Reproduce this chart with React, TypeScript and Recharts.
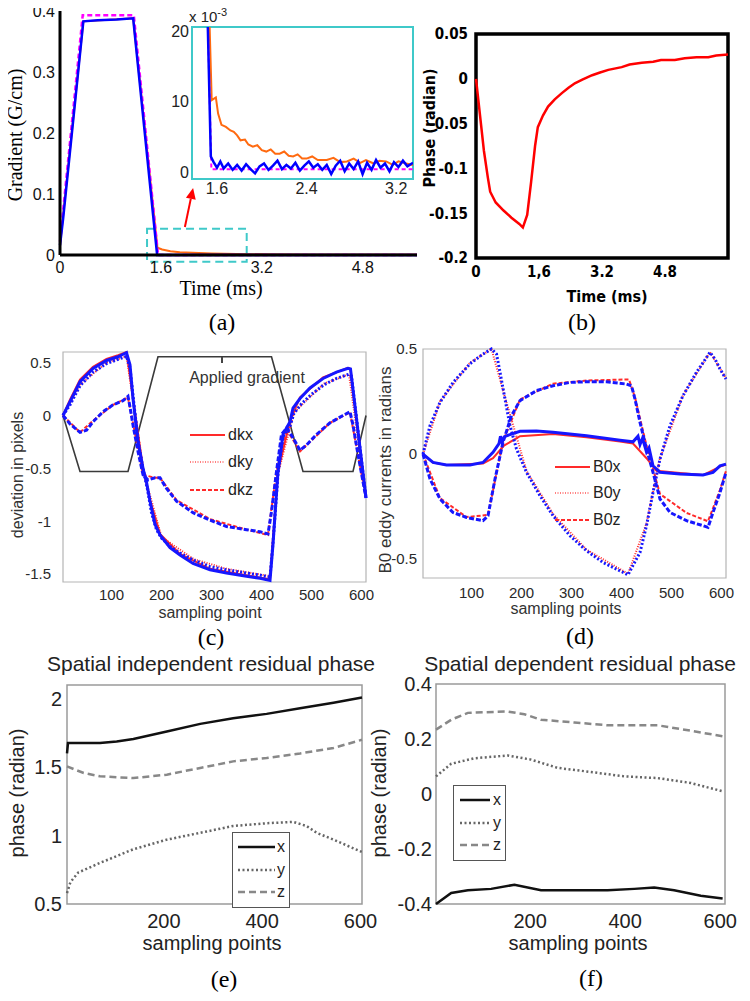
import React from 'react'
import { LineChart, Line, XAxis, YAxis, ReferenceArea, ReferenceLine } from 'recharts'

type Pt = [number, number]

// (a) gradient waveform (G/cm vs ms)
const A_X_TICKS = [0, 1.6, 3.2, 4.8]
const A_Y_TICKS = [0, 0.1, 0.2, 0.3, 0.4]
const A_BLUE: Pt[] = [[0, 0.016], [0.05, 0.06], [0.37, 0.383], [0.6, 0.385], [0.9, 0.386], [1.16, 0.388], [1.54, 0], [5.66, 0]]
const A_MAGENTA: Pt[] = [[0, 0.022], [0.36, 0.393], [1.17, 0.393], [1.555, 0], [5.66, 0]]
const A_ORANGE: Pt[] = [
  [0, 0.016], [0.37, 0.383], [1.16, 0.388], [1.545, 0.012], [1.62, 0.009], [1.75, 0.006], [1.9, 0.0045],
  [2.1, 0.0035], [2.4, 0.0025], [2.8, 0.0018], [3.3, 0.0012], [4.0, 0.001], [5.66, 0.0008],
]

// (a) inset, units of 1e-3
const IN_X_TICKS = [1.6, 2.4, 3.2]
const IN_Y_TICKS = [0, 10, 20]
const IN_ORANGE: Pt[] = [
  [1.5, 40], [1.553, 10.2], [1.59, 10.6], [1.61, 8.3], [1.64, 6.7], [1.68, 6.4], [1.72, 5.9], [1.75, 5.7],
  [1.78, 5.2], [1.81, 4.5], [1.85, 4.6], [1.88, 3.9], [1.92, 3.6], [1.96, 3.8], [2.0, 3.1], [2.04, 2.9],
  [2.08, 3.2], [2.12, 2.6], [2.16, 2.6], [2.2, 2.9], [2.24, 2.3], [2.28, 2.2], [2.32, 2.5], [2.36, 1.9],
  [2.4, 1.9], [2.45, 2.2], [2.5, 1.7], [2.58, 1.7], [2.64, 2.0], [2.7, 1.4], [2.76, 1.5], [2.82, 1.9],
  [2.88, 1.3], [2.93, 1.7], [3.0, 1.2], [3.05, 1.6], [3.11, 1.5], [3.17, 1.0], [3.22, 1.5], [3.29, 1.2], [3.35, 1.0],
]
const IN_MAGENTA: Pt[] = [[1.49, 40], [1.55, 0.4], [3.35, 0.4]]
const IN_BLUE: Pt[] = [
  [1.49, 40], [1.545, 2.2], [1.57, 1.4], [1.6, 0.6], [1.63, 1.5], [1.66, 0.5], [1.7, 1.2], [1.74, 0.3],
  [1.78, 1.0], [1.82, 0.2], [1.86, 1.1], [1.9, 0.4], [1.94, -0.2], [1.98, 0.8], [2.02, 1.2], [2.06, 0.3],
  [2.1, 0.9], [2.14, 1.6], [2.18, 0.4], [2.22, 1.0], [2.26, 0.5], [2.3, 1.3], [2.34, 0.2], [2.38, 0.9],
  [2.42, 1.5], [2.46, 0.6], [2.5, 1.1], [2.54, 0.3], [2.58, 1.0], [2.62, -0.3], [2.66, 0.9], [2.7, 1.6],
  [2.74, 0.1], [2.78, 1.2], [2.82, 0.4], [2.86, 1.5], [2.9, -0.3], [2.94, 1.3], [2.98, 0.3], [3.02, 1.7],
  [3.06, 0.6], [3.1, 1.2], [3.14, 0.1], [3.18, 1.4], [3.22, 0.7], [3.26, 1.6], [3.3, 0.8], [3.35, 1.3],
]

// (b) phase vs time
const B_X_TICKS = [0, 1.6, 3.2, 4.8]
const B_X_LABELS = ['0', '1,6', '3.2', '4.8']
const B_Y_TICKS = [-0.2, -0.15, -0.1, -0.05, 0, 0.05]
const B_PHASE: Pt[] = [
  [0, 0], [0.1, -0.04], [0.2, -0.08], [0.3, -0.11], [0.36, -0.126], [0.5, -0.138], [0.7, -0.147],
  [0.9, -0.155], [1.1, -0.162], [1.19, -0.166], [1.3, -0.152], [1.4, -0.115], [1.5, -0.075], [1.57, -0.054],
  [1.7, -0.041], [1.83, -0.031], [2.0, -0.023], [2.18, -0.016], [2.35, -0.01], [2.51, -0.005], [2.7, -0.001],
  [2.95, 0.004], [3.15, 0.007], [3.36, 0.01], [3.7, 0.013], [3.9, 0.016], [4.21, 0.018], [4.5, 0.019],
  [4.7, 0.021], [5.05, 0.021], [5.3, 0.023], [5.6, 0.024], [5.9, 0.024], [6.1, 0.026], [6.4, 0.027],
]

// (c) k-space deviation vs sampling point
const CD_X_TICKS = [100, 200, 300, 400, 500, 600]
const C_Y_TICKS = [-1.5, -1, -0.5, 0, 0.5]
const C_LEGEND = ['dkx', 'dky', 'dkz']
const C_GRAD: Pt[] = [[3, 0], [37, -0.53], [133, -0.53], [193, 0.555], [420, 0.555], [483, -0.53], [583, -0.53], [609, 0]]
const C_X_BLUE: Pt[] = [
  [3, 0], [17, 0.13], [37, 0.32], [63, 0.445], [90, 0.52], [113, 0.555], [130, 0.595], [137, 0.48], [143, 0.16],
  [153, -0.25], [163, -0.5], [170, -0.63], [177, -0.81], [187, -1.03], [197, -1.13], [217, -1.25], [237, -1.32],
  [263, -1.4], [297, -1.46], [330, -1.49], [370, -1.52], [397, -1.54], [417, -1.56], [423, -1.22], [433, -0.53],
  [443, -0.18], [457, -0.06], [463, 0.07], [477, 0.16], [497, 0.26], [523, 0.35], [550, 0.41], [573, 0.445],
  [578, 0.44], [609, -0.78],
]
const C_Y_BLUE: Pt[] = [
  [3, 0], [17, 0.1], [37, 0.28], [63, 0.41], [90, 0.49], [113, 0.53], [130, 0.56], [137, 0.45], [145, 0.1],
  [155, -0.3], [165, -0.55], [172, -0.7], [180, -0.92], [190, -1.08], [200, -1.16], [220, -1.25], [240, -1.31],
  [265, -1.37], [297, -1.43], [330, -1.46], [370, -1.49], [397, -1.51], [417, -1.53], [423, -1.2], [433, -0.55],
  [443, -0.2], [457, -0.1], [465, 0.02], [480, 0.11], [500, 0.2], [525, 0.29], [550, 0.35], [575, 0.39],
  [580, 0.37], [609, -0.78],
]
const C_Z_BLUE: Pt[] = [
  [3, 0], [17, -0.08], [37, -0.16], [50, -0.14], [63, -0.06], [83, 0.035], [103, 0.1], [123, 0.14], [133, 0.18],
  [137, 0.08], [143, -0.09], [153, -0.34], [163, -0.56], [173, -0.61], [187, -0.59], [197, -0.59], [210, -0.69],
  [230, -0.81], [263, -0.92], [297, -0.99], [330, -1.05], [370, -1.08], [397, -1.1], [413, -1.12], [420, -0.91],
  [430, -0.53], [440, -0.18], [450, -0.12], [463, -0.21], [477, -0.33], [490, -0.28], [510, -0.18], [537, -0.07],
  [563, 0], [577, 0.035], [583, -0.09], [593, -0.37], [609, -0.78],
]
const C_X_RED: Pt[] = [
  [3, 0], [17, 0.15], [37, 0.34], [63, 0.46], [90, 0.535], [113, 0.57], [130, 0.6], [163, -0.5], [177, -0.8],
  [197, -1.12], [237, -1.31], [297, -1.45], [370, -1.51], [417, -1.55], [433, -0.53], [457, -0.05], [477, 0.17],
  [523, 0.36], [573, 0.45], [578, 0.44], [609, -0.78],
]
const C_Y_RED: Pt[] = [
  [3, 0], [37, 0.29], [90, 0.5], [130, 0.56], [165, -0.55], [200, -1.15], [265, -1.36], [330, -1.45], [417, -1.52],
  [433, -0.55], [465, 0.03], [525, 0.3], [575, 0.39], [609, -0.78],
]
const C_Z_RED: Pt[] = [
  [3, 0], [37, -0.16], [63, -0.05], [103, 0.1], [133, 0.17], [163, -0.56], [187, -0.59], [197, -0.59], [230, -0.8],
  [297, -0.98], [370, -1.08], [413, -1.13], [430, -0.53], [450, -0.13], [477, -0.34], [537, -0.07], [577, 0.03],
  [609, -0.78],
]

// (d) B0 eddy currents vs sampling point
const D_Y_TICKS = [-0.5, 0, 0.5]
const D_LEGEND = ['B0x', 'B0y', 'B0z']
const D_X_BLUE: Pt[] = [
  [3, 0], [23, -0.04], [50, -0.052], [97, -0.052], [123, -0.04], [143, 0.008], [155, 0.05], [158, 0.085],
  [161, 0.055], [165, 0.08], [170, 0.087], [197, 0.108], [230, 0.11], [263, 0.104], [330, 0.087], [397, 0.066],
  [423, 0.058], [433, 0.085], [437, 0.045], [442, 0.075], [450, 0.01], [455, 0.03], [463, -0.056], [477, -0.087],
  [517, -0.095], [563, -0.1], [583, -0.087], [597, -0.056], [609, -0.048],
]
const D_Y_BLUE: Pt[] = [
  [3, 0], [17, 0.135], [37, 0.246], [63, 0.34], [97, 0.43], [123, 0.476], [140, 0.5], [150, 0.476], [157, 0.39],
  [167, 0.262], [177, 0.135], [190, 0.024], [210, -0.087], [237, -0.198], [263, -0.293], [297, -0.389],
  [330, -0.46], [363, -0.516], [397, -0.556], [413, -0.575], [423, -0.53], [437, -0.468], [450, -0.341],
  [463, -0.183], [477, -0.024], [497, 0.135], [523, 0.278], [550, 0.389], [577, 0.484], [587, 0.452],
  [597, 0.405], [609, 0.357],
]
const D_Z_BLUE: Pt[] = [
  [3, 0], [17, -0.119], [37, -0.214], [63, -0.278], [90, -0.302], [123, -0.317], [133, -0.294], [147, -0.119],
  [163, 0.056], [180, 0.183], [197, 0.254], [230, 0.302], [263, 0.325], [297, 0.341], [330, 0.344], [370, 0.344],
  [410, 0.333], [420, 0.325], [427, 0.262], [437, 0.151], [450, 0.024], [463, -0.087], [477, -0.214],
  [497, -0.278], [530, -0.317], [563, -0.341], [573, -0.349], [583, -0.278], [597, -0.183], [609, -0.087],
]
const D_X_RED: Pt[] = [
  [3, 0], [23, -0.04], [50, -0.052], [123, -0.045], [143, -0.02], [165, 0.04], [197, 0.085], [263, 0.095],
  [330, 0.08], [397, 0.06], [423, 0.05], [450, -0.02], [470, -0.08], [517, -0.09], [563, -0.1], [597, -0.06],
  [609, -0.05],
]
const D_Y_RED: Pt[] = [
  [3, 0], [37, 0.25], [97, 0.435], [140, 0.5], [167, 0.27], [210, -0.08], [263, -0.285], [330, -0.455],
  [413, -0.57], [450, -0.33], [477, -0.02], [523, 0.28], [577, 0.485], [609, 0.36],
]
const D_Z_RED: Pt[] = [
  [3, 0], [37, -0.21], [90, -0.3], [133, -0.29], [163, 0.06], [197, 0.26], [263, 0.335], [330, 0.35],
  [415, 0.355], [427, 0.27], [450, 0.04], [477, -0.19], [530, -0.28], [573, -0.32], [597, -0.17], [609, -0.08],
]

// (e) spatial independent residual phase
const EF_X_TICKS = [200, 400, 600]
const E_Y_TICKS = [0.5, 1, 1.5, 2]
const EF_LEGEND = ['x', 'y', 'z']
const E_X: Pt[] = [
  [3, 1.6], [5, 1.676], [22, 1.676], [70, 1.676], [104, 1.688], [138, 1.705], [206, 1.76], [274, 1.816],
  [341, 1.857], [409, 1.889], [477, 1.93], [545, 1.97], [603, 2.008],
]
const E_Y: Pt[] = [
  [3, 0.58], [10, 0.66], [26, 0.73], [70, 0.8], [138, 0.9], [206, 0.97], [274, 1.02], [341, 1.07], [409, 1.09],
  [463, 1.1], [490, 1.07], [511, 1.02], [545, 0.97], [603, 0.88],
]
const E_Z: Pt[] = [
  [3, 1.505], [37, 1.457], [70, 1.433], [138, 1.42], [206, 1.445], [274, 1.494], [341, 1.542], [409, 1.567],
  [477, 1.6], [545, 1.64], [603, 1.7],
]

// (f) spatial dependent residual phase
const F_Y_TICKS = [-0.4, -0.2, 0, 0.2, 0.4]
const F_X: Pt[] = [
  [2, -0.4], [34, -0.36], [69, -0.35], [118, -0.345], [167, -0.33], [223, -0.35], [293, -0.35], [363, -0.35],
  [419, -0.345], [461, -0.34], [503, -0.35], [559, -0.37], [605, -0.38],
]
const F_Y: Pt[] = [
  [2, 0.064], [34, 0.11], [83, 0.13], [153, 0.14], [202, 0.125], [258, 0.095], [328, 0.08], [398, 0.064],
  [468, 0.058], [538, 0.04], [605, 0.01],
]
const F_Z: Pt[] = [
  [2, 0.234], [34, 0.27], [69, 0.295], [153, 0.3], [188, 0.29], [223, 0.27], [293, 0.26], [363, 0.25],
  [433, 0.25], [468, 0.25], [538, 0.23], [605, 0.21],
]

const SERIF = '"Liberation Serif", "Times New Roman", serif'
const SANS = '"Liberation Sans", Arial, Helvetica, sans-serif'
const NARROW = '"Liberation Sans Narrow", "Arial Narrow", "DejaVu Sans Condensed", sans-serif'
const BLUE = '#1616ff'
const RED = '#ff2a2a'
const CYAN = '#3fc9c9'

const pts = (a: Pt[]) => a.map(([x, y]) => ({ x, y }))

// plot boxes [left, top, right, bottom] in page pixels
const T = 12
const R = 30
const place = (box: number[], l: number, b: number) => ({
  style: { position: 'absolute' as const, left: box[0] - l, top: box[1] - T },
  width: box[2] - box[0] + l + R,
  height: box[3] - box[1] + T + b,
  margin: { top: T, right: R, bottom: 0, left: 0 },
})

function Txt({ x, y, rot = 0, size, font, weight = 400, color = '#000', children }: any) {
  return (
    <div
      style={{
        position: 'absolute', left: x, top: y, whiteSpace: 'nowrap', lineHeight: 1.2,
        transform: `translate(-50%, -50%) rotate(${rot}deg)`,
        fontSize: size, fontFamily: font, fontWeight: weight, color,
      }}
    >
      {children}
    </div>
  )
}

type Key = { label: string; stroke: string; width: number; dash?: string }

function LineKey({ items, left, top, step, len, size, box, padX = 0, gap = 3 }: any) {
  return (
    <div
      style={{
        position: 'absolute', left, top, background: box ? '#fff' : 'transparent',
        border: box ? '1px solid #555' : 'none', padding: box ? `3px 4px 3px ${padX}px` : 0,
      }}
    >
      {items.map((it: Key) => (
        <div key={it.label} style={{ display: 'flex', alignItems: 'center', height: step }}>
          <svg width={len} height={6}>
            <line x1={0} y1={3} x2={len} y2={3} stroke={it.stroke} strokeWidth={it.width} strokeDasharray={it.dash} />
          </svg>
          <span style={{ marginLeft: gap, fontFamily: SANS, fontSize: size, color: '#222', lineHeight: 1 }}>{it.label}</span>
        </div>
      ))}
    </div>
  )
}

const Arrow = (p: any) => {
  const { x1, y1, x2, y2 } = p
  const a = Math.atan2(y2 - y1, x2 - x1)
  const L = 11
  const W = 5
  const bx = x2 - L * Math.cos(a)
  const by = y2 - L * Math.sin(a)
  const head = `${x2},${y2} ${bx + W * Math.sin(a)},${by - W * Math.cos(a)} ${bx - W * Math.sin(a)},${by + W * Math.cos(a)}`
  return (
    <g>
      <line x1={x1} y1={y1} x2={bx} y2={by} stroke="#f00" strokeWidth={2} />
      <polygon points={head} fill="#f00" />
    </g>
  )
}

const BOX_A = [60, 11, 417, 255]
const BOX_IN = [192, 27, 413, 179]
const BOX_B = [476, 34, 728, 258]
const BOX_C = [63, 352, 366, 582]
const BOX_D = [423, 349, 726, 578]
const BOX_E = [67, 685, 362, 904]
const BOX_F = [436, 684, 725, 904]

export default function App() {
  const pa = place(BOX_A, 60, 40)
  const pi = place(BOX_IN, 40, 30)
  const pb = place(BOX_B, 60, 40)
  const pc = place(BOX_C, 60, 40)
  const pd = place(BOX_D, 60, 40)
  const pe = place(BOX_E, 60, 40)
  const pf = place(BOX_F, 60, 40)

  const thin = { fontFamily: SANS, fontSize: 15, fill: '#2a2a2a' }
  const big = { fontFamily: SANS, fontSize: 20, fill: '#222' }
  const cdStyles = [
    { w: 3, dash: undefined, rdash: undefined },
    { w: 3, dash: '2 2', rdash: '1 1.5' },
    { w: 3, dash: '5 2', rdash: '4 2' },
  ]
  const cKeys: Key[] = C_LEGEND.map((label, i) => ({ label, stroke: i === 1 ? '#ff8080' : RED, width: 2, dash: cdStyles[i].rdash }))
  const dKeys: Key[] = D_LEGEND.map((label, i) => ({ label, stroke: i === 1 ? '#ff8080' : RED, width: 2, dash: cdStyles[i].rdash }))
  const efStyles = [
    { stroke: '#111', dash: undefined },
    { stroke: '#666', dash: '2 2.5' },
    { stroke: '#888', dash: '7 4' },
  ]
  const efKeys: Key[] = EF_LEGEND.map((label, i) => ({ label, stroke: efStyles[i].stroke, width: 2.5, dash: efStyles[i].dash }))

  return (
    <div style={{ position: 'relative', width: 750, height: 1001, margin: -8, background: '#fff', overflow: 'hidden' }}>
      {/* (a) */}
      <div style={pa.style}>
        <LineChart width={pa.width} height={pa.height} margin={pa.margin}>
          <XAxis type="number" dataKey="x" domain={[0, 5.66]} ticks={A_X_TICKS} interval={0} height={40}
            tickLine={false} tickSize={4} tickMargin={3} axisLine={{ stroke: '#000', strokeWidth: 3 }}
            tick={{ fontFamily: SANS, fontSize: 16, fill: '#111' }} />
          <YAxis type="number" domain={[0, 0.4]} ticks={A_Y_TICKS} interval={0} width={60}
            tickLine={false} tickSize={3} tickMargin={2} axisLine={{ stroke: '#000', strokeWidth: 3 }}
            tick={{ fontFamily: SANS, fontSize: 16, fill: '#111' }} />
          <Line data={pts(A_ORANGE)} dataKey="y" stroke="#ff6a10" strokeWidth={2} dot={false} activeDot={false} isAnimationActive={false} />
          <Line data={pts(A_MAGENTA)} dataKey="y" stroke="#ff00ff" strokeWidth={2.5} strokeDasharray="5 3" dot={false} activeDot={false} isAnimationActive={false} />
          <Line data={pts(A_BLUE)} dataKey="y" stroke="#0000ff" strokeWidth={2.5} dot={false} activeDot={false} isAnimationActive={false} />
          <ReferenceArea x1={1.38} x2={2.96} y1={-0.011} y2={0.043} fill="none" stroke={CYAN} strokeWidth={2}
            strokeDasharray="8 5" ifOverflow="visible" />
          <ReferenceLine segment={[{ x: 1.98, y: 0.046 }, { x: 2.11, y: 0.11 }]} ifOverflow="visible" shape={Arrow} />
        </LineChart>
      </div>
      {/* (a) inset */}
      <div style={pi.style}>
        <LineChart width={pi.width} height={pi.height} margin={pi.margin}>
          <XAxis type="number" dataKey="x" domain={[1.377, 3.35]} ticks={IN_X_TICKS} interval={0} height={30}
            tickLine={false} tickSize={2} tickMargin={2} axisLine={false} allowDataOverflow
            tick={{ fontFamily: SANS, fontSize: 16, fill: '#222' }} />
          <YAxis type="number" domain={[-1, 20.6]} ticks={IN_Y_TICKS} interval={0} width={40}
            tickLine={false} tickSize={0} tickMargin={3} axisLine={false} allowDataOverflow
            tick={{ fontFamily: SANS, fontSize: 16, fill: '#222' }} />
          <Line data={pts(IN_ORANGE)} dataKey="y" stroke="#ff6a10" strokeWidth={2} dot={false} activeDot={false} isAnimationActive={false} />
          <Line data={pts(IN_MAGENTA)} dataKey="y" stroke="#ff00ff" strokeWidth={2} strokeDasharray="4 3" dot={false} activeDot={false} isAnimationActive={false} />
          <Line data={pts(IN_BLUE)} dataKey="y" stroke="#0000ff" strokeWidth={2.5} dot={false} activeDot={false} isAnimationActive={false} />
          <ReferenceArea x1={1.377} x2={3.35} y1={-1} y2={20.6} fill="none" stroke={CYAN} strokeWidth={2} ifOverflow="visible" />
        </LineChart>
      </div>

      {/* (b) */}
      <div style={pb.style}>
        <LineChart width={pb.width} height={pb.height} margin={pb.margin}>
          <XAxis type="number" dataKey="x" domain={[0, 6.4]} ticks={B_X_TICKS} interval={0} height={40}
            tickLine={false} tickSize={5} tickMargin={3} axisLine={false}
            tickFormatter={(v: number) => B_X_LABELS[B_X_TICKS.indexOf(v)] ?? String(v)}
            tick={{ fontFamily: NARROW, fontWeight: 700, fontSize: 15, fill: '#000' }} />
          <YAxis type="number" domain={[-0.2, 0.05]} ticks={B_Y_TICKS} interval={0} width={60}
            tickLine={false} tickSize={5} tickMargin={3} axisLine={false}
            tick={{ fontFamily: NARROW, fontWeight: 700, fontSize: 15, fill: '#000' }} />
          <Line data={pts(B_PHASE)} dataKey="y" stroke="#ff0000" strokeWidth={2.5} dot={false} activeDot={false} isAnimationActive={false} />
          <ReferenceArea x1={0} x2={6.4} y1={-0.2} y2={0.05} fill="none" stroke="#000" strokeWidth={3.5} ifOverflow="visible" />
        </LineChart>
      </div>

      {/* (c) */}
      <div style={pc.style}>
        <LineChart width={pc.width} height={pc.height} margin={pc.margin}>
          <XAxis type="number" dataKey="x" domain={[3, 609]} ticks={CD_X_TICKS} interval={0} height={40}
            tickLine={false} tickSize={0} tickMargin={7} axisLine={false} tick={thin} />
          <YAxis type="number" domain={[-1.575, 0.6]} ticks={C_Y_TICKS} interval={0} width={60}
            tickLine={false} tickSize={0} tickMargin={12} axisLine={false} tick={thin} />
          <ReferenceArea x1={3} x2={609} y1={-1.575} y2={0.6} fill="none" stroke="#b5b5b5" strokeWidth={1.2} ifOverflow="visible" />
          <Line data={pts(C_GRAD)} dataKey="y" stroke="#3a3a3a" strokeWidth={1.6} dot={false} activeDot={false} isAnimationActive={false} />
          {[C_X_RED, C_Y_RED, C_Z_RED].map((d, i) => (
            <Line key={'cr' + i} data={pts(d)} dataKey="y" stroke={RED} strokeWidth={2} strokeDasharray={cdStyles[i].rdash}
              dot={false} activeDot={false} isAnimationActive={false} />
          ))}
          {[C_X_BLUE, C_Y_BLUE, C_Z_BLUE].map((d, i) => (
            <Line key={'cb' + i} data={pts(d)} dataKey="y" stroke={BLUE} strokeWidth={cdStyles[i].w} strokeDasharray={cdStyles[i].dash}
              dot={false} activeDot={false} isAnimationActive={false} />
          ))}
        </LineChart>
      </div>

      {/* (d) */}
      <div style={pd.style}>
        <LineChart width={pd.width} height={pd.height} margin={pd.margin}>
          <XAxis type="number" dataKey="x" domain={[3, 609]} ticks={CD_X_TICKS} interval={0} height={40}
            tickLine={false} tickSize={0} tickMargin={9} axisLine={false} tick={thin} />
          <YAxis type="number" domain={[-0.59, 0.5]} ticks={D_Y_TICKS} interval={0} width={60}
            tickLine={false} tickSize={0} tickMargin={6} axisLine={false} tick={thin} />
          <ReferenceArea x1={3} x2={609} y1={-0.59} y2={0.5} fill="none" stroke="#b5b5b5" strokeWidth={1.2} ifOverflow="visible" />
          {[D_X_RED, D_Y_RED, D_Z_RED].map((d, i) => (
            <Line key={'dr' + i} data={pts(d)} dataKey="y" stroke={RED} strokeWidth={2} strokeDasharray={cdStyles[i].rdash}
              dot={false} activeDot={false} isAnimationActive={false} />
          ))}
          {[D_X_BLUE, D_Y_BLUE, D_Z_BLUE].map((d, i) => (
            <Line key={'db' + i} data={pts(d)} dataKey="y" stroke={BLUE} strokeWidth={cdStyles[i].w} strokeDasharray={cdStyles[i].dash}
              dot={false} activeDot={false} isAnimationActive={false} />
          ))}
        </LineChart>
      </div>

      {/* (e) */}
      <div style={pe.style}>
        <LineChart width={pe.width} height={pe.height} margin={pe.margin}>
          <XAxis type="number" dataKey="x" domain={[3, 603]} ticks={EF_X_TICKS} interval={0} height={40}
            tickLine={false} tickSize={0} tickMargin={10} axisLine={false} tick={big} />
          <YAxis type="number" domain={[0.5, 2.1]} ticks={E_Y_TICKS} interval={0} width={60}
            tickLine={false} tickSize={0} tickMargin={5} axisLine={false} tick={big} />
          <ReferenceArea x1={3} x2={603} y1={0.5} y2={2.1} fill="none" stroke="#9a9a9a" strokeWidth={1.5} ifOverflow="visible" />
          {[E_X, E_Y, E_Z].map((d, i) => (
            <Line key={'e' + i} data={pts(d)} dataKey="y" stroke={efStyles[i].stroke} strokeWidth={2.5} strokeDasharray={efStyles[i].dash}
              dot={false} activeDot={false} isAnimationActive={false} />
          ))}
        </LineChart>
      </div>

      {/* (f) */}
      <div style={pf.style}>
        <LineChart width={pf.width} height={pf.height} margin={pf.margin}>
          <XAxis type="number" dataKey="x" domain={[2, 610]} ticks={EF_X_TICKS} interval={0} height={40}
            tickLine={false} tickSize={0} tickMargin={10} axisLine={false} tick={big} />
          <YAxis type="number" domain={[-0.4, 0.4]} ticks={F_Y_TICKS} interval={0} width={60}
            tickLine={false} tickSize={0} tickMargin={4} axisLine={false} tick={big} />
          <ReferenceArea x1={2} x2={610} y1={-0.4} y2={0.4} fill="none" stroke="#9a9a9a" strokeWidth={1.5} ifOverflow="visible" />
          {[F_X, F_Y, F_Z].map((d, i) => (
            <Line key={'f' + i} data={pts(d)} dataKey="y" stroke={efStyles[i].stroke} strokeWidth={2.5} strokeDasharray={efStyles[i].dash}
              dot={false} activeDot={false} isAnimationActive={false} />
          ))}
        </LineChart>
      </div>

      {/* texts */}
      <Txt x={15} y={135} rot={-90} size={20} font={SERIF}>Gradient (G/cm)</Txt>
      <Txt x={221} y={288} size={20} font={SERIF}>Time (ms)</Txt>
      <div style={{ position: 'absolute', left: 189, top: 9, fontFamily: SANS, fontSize: 15, color: '#222', lineHeight: 1 }}>
        x 10<span style={{ fontSize: 11, position: 'relative', top: -6 }}>-3</span>
      </div>
      <Txt x={430} y={128} rot={-90} size={16} font={NARROW} weight={700}>Phase (radian)</Txt>
      <Txt x={607} y={297} size={16} font={NARROW} weight={700}>Time (ms)</Txt>

      <Txt x={18} y={475} rot={-90} size={16} font={SANS} color="#333">deviation in pixels</Txt>
      <Txt x={210} y={613} size={16} font={SANS} color="#333">sampling point</Txt>
      <Txt x={247} y={378} size={16} font={SANS} color="#333">Applied gradient</Txt>
      <div style={{ position: 'absolute', left: 221, top: 357, width: 1.5, height: 6, background: '#444' }} />
      <LineKey items={cKeys} left={190} top={421} step={27.5} len={35} size={16} />

      <Txt x={386} y={470} rot={-90} size={17} font={SANS} color="#333">B0 eddy currents in radians</Txt>
      <Txt x={566} y={609} size={16} font={SANS} color="#333">sampling points</Txt>
      <LineKey items={dKeys} left={555} top={453.5} step={26.5} len={35} size={16} />

      <Txt x={211} y={664} size={21} font={SANS} color="#222">Spatial independent residual phase</Txt>
      <Txt x={17} y={793} rot={-90} size={20} font={SANS} color="#222">phase (radian)</Txt>
      <Txt x={212} y={943} size={20} font={SANS} color="#222">sampling points</Txt>
      <LineKey items={efKeys} left={232} top={832} step={22.5} len={37} size={16} box padX={5} gap={2} />

      <Txt x={580} y={664} size={21} font={SANS} color="#222">Spatial dependent residual phase</Txt>
      <Txt x={379} y={793} rot={-90} size={20} font={SANS} color="#222">phase (radian)</Txt>
      <Txt x={578} y={943} size={20} font={SANS} color="#222">sampling points</Txt>
      <LineKey items={efKeys} left={453} top={785} step={22.5} len={30} size={16} box padX={6} gap={3} />

      <Txt x={222} y={322} size={24} font={SERIF}>(a)</Txt>
      <Txt x={582} y={322} size={24} font={SERIF}>(b)</Txt>
      <Txt x={211} y={637} size={24} font={SERIF}>(c)</Txt>
      <Txt x={580} y={636} size={24} font={SERIF}>(d)</Txt>
      <Txt x={224} y={979} size={24} font={SERIF}>(e)</Txt>
      <Txt x={591} y={978} size={24} font={SERIF}>(f)</Txt>
    </div>
  )
}
